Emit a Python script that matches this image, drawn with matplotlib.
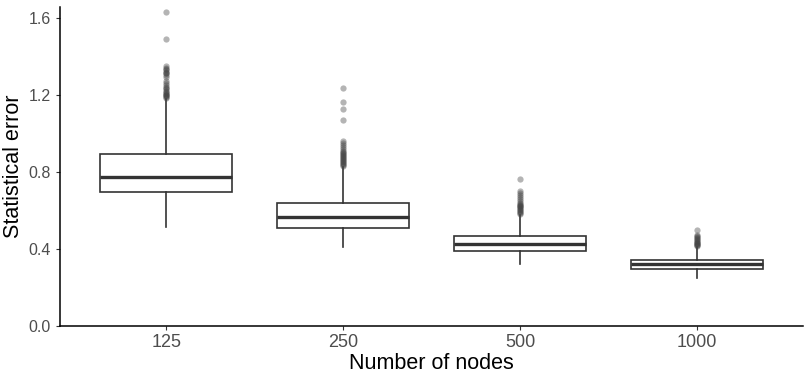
import numpy as np
import matplotlib.pyplot as plt

plt.rcParams['font.family'] = ['Liberation Sans', 'DejaVu Sans']

nodes = ["125", "250", "500", "1000"]
whisker_low = [0.513, 0.409, 0.321, 0.249]
q1 = [0.694, 0.508, 0.389, 0.295]
median = [0.772, 0.565, 0.425, 0.321]
q3 = [0.891, 0.637, 0.466, 0.342]
whisker_high = [1.18, 0.824, 0.575, 0.41]
outliers = [
    [1.185, 1.19, 1.195, 1.20, 1.20, 1.205, 1.21, 1.215, 1.22, 1.23, 1.235,
     1.24, 1.25, 1.26, 1.27, 1.29, 1.30, 1.31, 1.315, 1.32, 1.33, 1.335,
     1.34, 1.35, 1.49, 1.63],
    [0.83, 0.835, 0.84, 0.845, 0.85, 0.855, 0.86, 0.865, 0.87, 0.875, 0.88,
     0.885, 0.89, 0.90, 0.905, 0.91, 0.92, 0.93, 0.94, 0.95, 0.96,
     1.067, 1.124, 1.16, 1.233],
    [0.58, 0.585, 0.59, 0.595, 0.60, 0.605, 0.61, 0.615, 0.62, 0.625, 0.63,
     0.635, 0.64, 0.65, 0.66, 0.67, 0.68, 0.69, 0.70, 0.762],
    [0.415, 0.42, 0.42, 0.425, 0.43, 0.43, 0.435, 0.44, 0.445, 0.45,
     0.455, 0.46, 0.465, 0.47, 0.497],
]

stats = []
for i, lab in enumerate(nodes):
    stats.append(dict(label=lab, whislo=whisker_low[i], q1=q1[i], med=median[i],
                      q3=q3[i], whishi=whisker_high[i], fliers=outliers[i]))

fig = plt.figure(figsize=(8.1, 3.81), dpi=100)
ax = fig.add_axes([60 / 810, 55 / 381, 743 / 810, 319 / 381])

dark = "#333333"
ax.bxp(stats, positions=np.arange(1, 5), widths=0.75, showcaps=False,
       patch_artist=True,
       boxprops=dict(facecolor="white", edgecolor=dark, linewidth=1.2),
       whiskerprops=dict(color=dark, linewidth=1.2),
       medianprops=dict(color=dark, linewidth=2.4),
       flierprops=dict(marker="o", markersize=4.5, markerfacecolor="#444444",
                       markeredgecolor="none", alpha=0.4))

ax.set_xlim(0.4, 4.6)
ax.set_ylim(0, 1.655)
ax.set_yticks([0.0, 0.4, 0.8, 1.2, 1.6])
ax.set_yticklabels(["0.0", "0.4", "0.8", "1.2", "1.6"])
ax.set_xlabel("Number of nodes", fontsize=15.5, labelpad=1)
ax.set_ylabel("Statistical error", fontsize=15.5, labelpad=3)
ax.tick_params(axis="both", colors="#333333", labelcolor="#4d4d4d",
               labelsize=11.5, length=3, width=0.8)
ax.tick_params(axis="x", labelsize=13, pad=3)
for side in ["top", "right"]:
    ax.spines[side].set_visible(False)
for side in ["left", "bottom"]:
    ax.spines[side].set_linewidth(1.1)
    ax.spines[side].set_color("black")

fig.savefig("out.png")
